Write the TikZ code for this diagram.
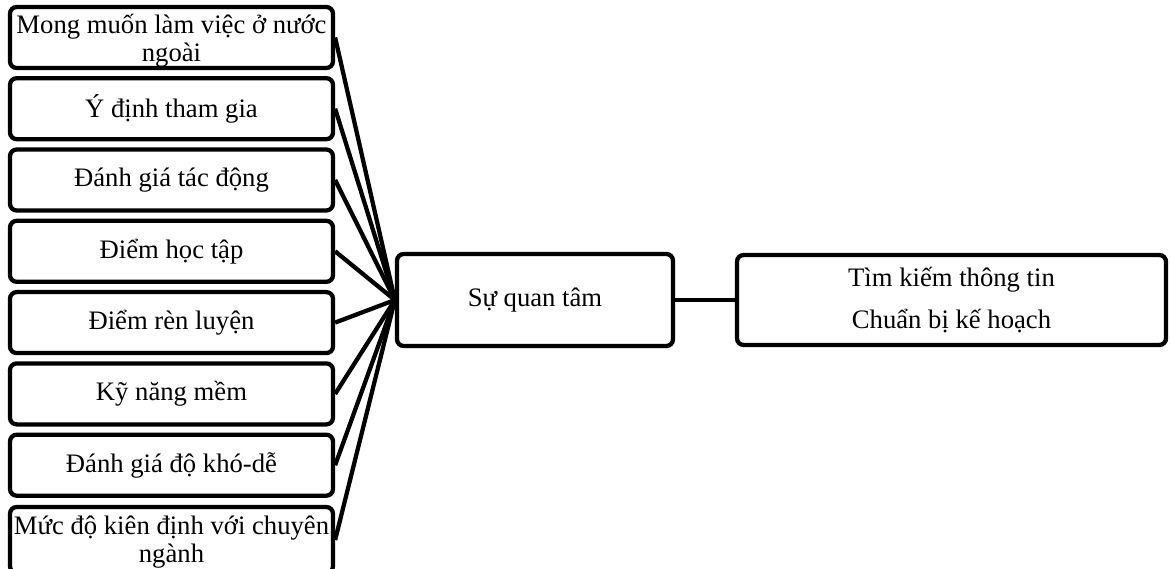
\documentclass[tikz,border=0pt]{standalone}
\usepackage{fontspec}
\setmainfont{Liberation Serif}
\begin{document}
\begin{tikzpicture}[x=0.75pt,y=-0.75pt,
  box/.style={draw, line width=3.2pt, rounded corners=5pt, align=center, inner sep=0pt,
    font=\fontsize{20}{22.5}\selectfont},
  leftbox/.style={box, minimum width=242.25pt, minimum height=45.75pt},
  lbl/.style={align=center, inner sep=0pt, font=\fontsize{20}{21.5}\selectfont, yshift=-2.5pt},
  conn/.style={line width=3.2pt}]
\useasboundingbox (0,0) rectangle (1171,568);
\clip (0,0) rectangle (1171,568);
\node[leftbox, label={[lbl]center:{Mong muốn làm việc ở nước\\ngoài}}] (b1) at (171.5,37.5) {};
\node[leftbox] (b2) at (171.5,108.7) {Ý định tham gia};
\node[leftbox] (b3) at (171.5,180) {Đánh giá tác động};
\node[leftbox] (b4) at (171.5,251.3) {Điểm học tập};
\node[leftbox] (b5) at (171.5,322.6) {Điểm rèn luyện};
\node[leftbox] (b6) at (171.5,393.9) {Kỹ năng mềm};
\node[leftbox] (b7) at (171.5,465.2) {Đánh giá độ khó-dễ};
\node[leftbox, minimum height=49.5pt, label={[lbl, yshift=1pt]center:{Mức độ kiên định với chuyên\\ngành}}] (b8) at (171.5,540) {};
\node[box, minimum width=207pt, minimum height=69pt] (c) at (535,300) {Sự quan tâm};
\node[box, minimum width=321.75pt, minimum height=67.5pt, font=\fontsize{20}{31.5}\selectfont] (r) at (951.5,300) {Tìm kiếm thông tin\\Chuẩn bị kế hoạch};
\foreach \i in {1,...,8}{\draw[conn] (b\i.east) -- (c.west);}
\draw[conn] (c.east) -- (r.west);
\end{tikzpicture}
\end{document}
